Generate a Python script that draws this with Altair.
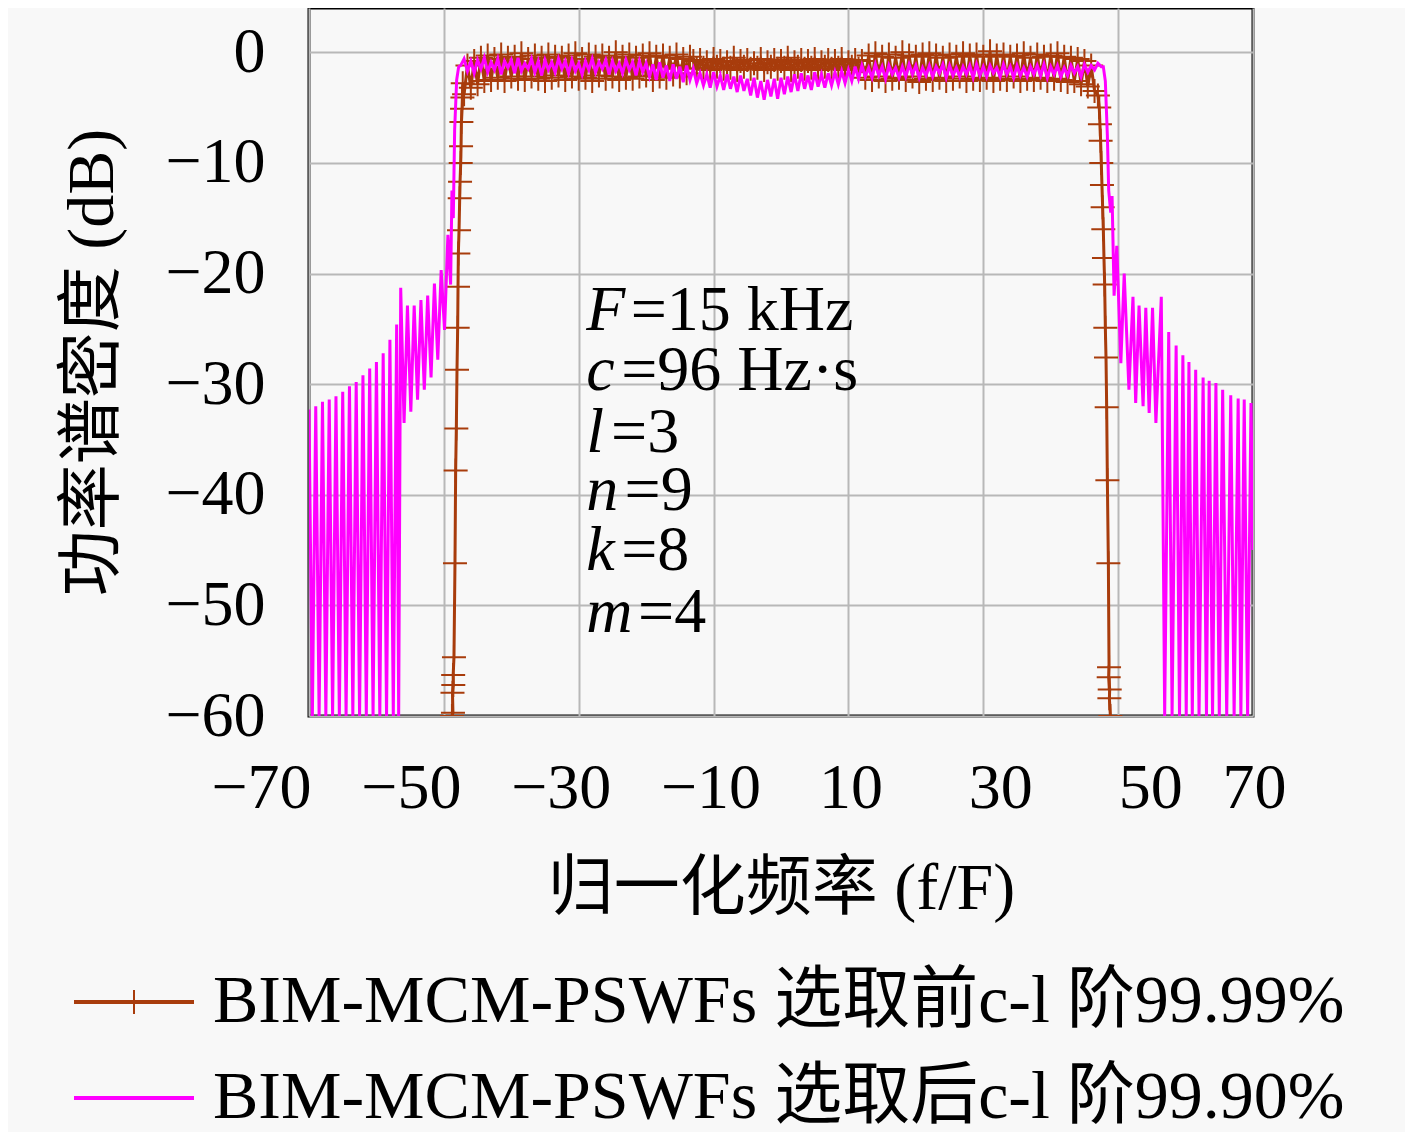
import altair as alt
import pandas as pd

BROWN = "#a83c0c"
MAGENTA = "#ff00ff"
FONT = "Liberation Serif, Noto Sans CJK SC"
S1 = "BIM-MCM-PSWFs 选取前c-l 阶99.99%"
S2 = "BIM-MCM-PSWFs 选取后c-l 阶99.90%"
PLUS = "M-0.4,0H0.4M0,-0.4V0.4"

# ---------------- magenta series (99.90%) ----------------
mag_left_x = [-70.0, -69.5, -69.0, -68.5, -68.0, -67.5, -67.0, -66.5, -66.0, -65.5,
              -65.0, -64.5, -64.0, -63.5, -63.0, -62.5, -62.0, -61.5, -61.0, -60.5,
              -60.0, -59.5, -59.0, -58.5, -58.0, -57.5, -57.0, -56.7, -56.4, -55.9,
              -55.4, -54.9, -54.4, -53.9, -53.4, -52.9, -52.4, -51.9, -51.4, -50.9,
              -50.4, -49.9, -49.4, -49.0, -48.8, -48.6, -48.4, -48.1, -47.8]
mag_left_y = [-32.3, -60, -32.0, -60, -31.6, -60, -31.4, -60, -31.1, -60,
              -30.7, -60, -30.2, -60, -29.8, -60, -29.2, -60, -28.6, -60,
              -28.0, -60, -27.2, -60, -26.0, -60, -24.6, -60, -21.3, -33.5,
              -22.9, -32.5, -22.9, -31.4, -22.4, -30.5, -22.0, -29.4, -20.9, -27.8,
              -19.7, -25.1, -16.5, -21.0, -12.5, -15.0, -7.0, -2.5, -1.3]

mag_pass_start = -47.5
mag_pass_y = [
    -1.2, -0.6, -1.7, -0.8, -1.9, -0.7, -1.5, -0.5, -1.8, -0.9,
    -1.6, -0.6, -2.0, -0.8, -1.4, -0.7, -1.9, -0.5, -1.7, -1.0,
    -1.5, -0.6, -1.8, -0.8, -2.1, -0.7, -1.6, -0.9, -1.8, -0.6,
    -1.5, -0.8, -1.9, -0.7, -1.7, -1.0, -2.0, -0.8, -1.6, -0.6,
    -1.8, -0.9, -1.5, -0.7, -2.0, -0.8, -1.7, -1.0, -1.9, -0.7,
    -1.6, -0.9, -2.1, -0.8, -1.8,
    -1.0, -2.2, -1.1, -2.5, -0.9, -2.3, -1.2, -2.6, -1.1, -2.4, -1.3, -2.7, -1.2, -2.5, -1.5, -2.8,
    -1.9, -3.0, -2.0, -3.2, -1.8, -3.1, -2.1, -3.4, -2.0, -3.3,
    -2.2, -3.6, -2.1, -3.5, -2.4, -3.9, -2.3, -4.1, -2.6, -4.3,
    -2.5, -4.0, -2.4, -4.2, -2.3, -3.8, -2.2, -3.6, -2.0, -3.5,
    -1.9, -3.3, -2.1, -3.4, -1.8, -3.1, -2.0, -3.2, -1.9, -3.0,
    -1.8, -2.9, -1.7, -2.8, -1.6,
    -2.6, -1.3, -2.4, -1.2, -2.2, -1.4, -2.3, -1.1, -2.1, -1.3,
    -2.4, -1.2, -2.0, -1.4, -2.3, -1.3, -2.2, -1.1, -2.0, -1.2,
    -2.3, -1.4, -2.1, -1.2, -2.2, -1.3, -1.9, -1.1, -2.3, -1.2,
    -2.1, -1.4, -2.2, -1.3, -2.0, -1.2, -2.3, -1.1, -2.1, -1.3,
    -2.2, -1.2, -1.9, -1.4, -2.2, -1.1, -2.0, -1.3, -2.3, -1.2,
    -2.1, -1.4, -2.2, -1.3, -2.0, -1.2, -2.1, -1.1, -2.3, -1.3,
    -2.0, -1.2, -2.2, -1.4, -2.1, -1.2, -1.9, -1.3, -2.2, -1.1,
    -1.8, -1.2, -1.6, -1.0, -1.3,
]

mag_right_x = [47.8, 48.1, 48.4, 48.6, 48.9, 49.1, 49.4, 49.8, 50.4, 50.9,
               51.6, 52.2, 52.6, 53.1, 53.7, 54.1, 54.6, 55.1, 55.6, 56.4,
               56.9, 57.5, 58.0, 58.6, 59.1, 59.6, 60.1, 60.5, 61.0, 61.5,
               62.0, 62.6, 63.1, 63.5, 64.0, 64.5, 65.0, 65.5, 66.1, 66.7,
               67.2, 67.8, 68.2, 68.7, 69.2, 69.7, 70.0]
mag_right_y = [-1.3, -2.6, -7.5, -12.5, -14.5, -13.0, -22.0, -17.5, -28.1, -20.0,
               -30.5, -22.1, -31.7, -22.9, -32.0, -23.1, -32.6, -23.1, -33.5, -22.1,
               -60, -25.3, -60, -26.5, -60, -27.4, -60, -28.0, -60, -28.7,
               -60, -29.4, -60, -29.7, -60, -29.9, -60, -30.5, -60, -31.0,
               -60, -31.3, -60, -31.4, -60, -31.7, -45.0]

# ---------------- brown series (99.99%) ----------------
brown_left_x = [-48.8, -48.65, -48.72, -48.6, -48.62, -48.5, -48.35, -48.25, -48.15, -48.05,
                -47.95, -47.9, -47.85, -47.75, -47.65, -47.6, -47.5, -47.45, -47.4, -47.3,
                -47.25, -47.2]
brown_left_y = [-60.0, -59.7, -57.9, -57.2, -56.3, -54.7, -46.2, -37.8, -34.0, -28.7,
                -24.9, -21.2, -18.2, -16.1, -13.2, -11.7, -10.0, -8.5, -6.3, -5.1,
                -4.1, -2.8]

brown_pass_start = -47.0
brown_pass_y = [
    -3.8, -1.2, -3.2, -0.8, -2.9, -0.5, -2.6, -0.3, -2.5, -0.6,
    -2.3, -0.2, -2.6, -0.5, -2.2, -0.4, -2.4, -0.1, -2.5, -0.6,
    -2.2, -0.3, -2.4, -0.5, -2.6, -0.2, -2.3, -0.4, -2.1, -0.5,
    -2.5, -0.3, -2.2, -0.1, -2.4, -0.6, -2.3, -0.2, -2.6, -0.4,
    -2.1, -0.3, -2.4, -0.5, -2.2, 0.0, -2.5, -0.4, -2.3, -0.2,
    -2.4, -0.5, -2.2, -0.3, -2.1, -0.1, -2.5, -0.4, -2.2, -0.3,
    -2.3, -0.5, -2.0, -0.2, -2.2, -0.6, -1.9, -0.4,
    -0.8, -1.5, -0.7, -1.4, -0.9, -1.6, -0.6, -1.3, -0.8, -1.5,
    -0.9, -1.4, -0.5, -1.6, -0.8, -1.3, -0.7, -1.5, -1.0, -1.4,
    -0.6, -1.6, -0.9, -1.3, -0.7, -1.5, -0.8, -1.4, -0.5, -1.6,
    -0.9, -1.3, -0.7, -1.5, -0.8, -1.4, -0.6, -1.6, -0.9, -1.3,
    -0.7, -1.5, -0.8, -1.4, -0.6, -1.6, -0.9, -1.3, -0.7, -1.5,
    -0.8,
    -2.3, -0.3, -2.5, -0.1, -2.2, -0.4, -2.6, -0.2, -2.4, -0.5,
    -2.3, 0.0, -2.5, -0.3, -2.2, -0.4, -2.7, -0.2, -2.4, -0.1,
    -2.5, -0.3, -2.3, -0.5, -2.6, -0.2, -2.4, -0.4, -2.2, -0.1,
    -2.6, -0.3, -2.4, -0.2, -2.5, -0.4, -2.3, 0.1, -2.6, -0.3,
    -2.4, -0.2, -2.5, -0.4, -2.2, -0.3, -2.6, -0.1, -2.4, -0.5,
    -2.5, -0.2, -2.3, -0.4, -2.6, -0.3, -2.4, -0.1, -2.5, -0.4,
    -2.7, -0.5, -2.6, -0.6, -2.9, -0.8, -3.1, -1.2, -3.5, -3.9,
]

brown_right_x = [47.2, 47.3, 47.4, 47.5, 47.6, 47.7, 47.8, 47.9, 48.0, 48.1,
                 48.2, 48.3, 48.4, 48.55, 48.65, 48.6, 48.75, 48.7, 48.85]
brown_right_y = [-5.0, -6.5, -8.0, -10.0, -12.0, -14.0, -16.0, -18.6, -21.0, -24.9,
                 -27.6, -32.1, -38.7, -46.2, -55.6, -56.5, -57.6, -58.4, -60.0]

# ---------------- annotation ----------------
ann_var = ["F", "c", "l", "n", "k", "m"]
ann_rest = ["=15 kHz", "=96 Hz·s", "=3", "=9", "=8", "=4"]
ann_y = [-25.1, -30.5, -36.1, -41.4, -46.8, -52.4]
ann_var_x = [-28.9, -28.9, -28.9, -28.9, -28.9, -28.9]
ann_rest_x = [-22.3, -23.7, -25.2, -23.2, -23.7, -21.2]

x_ticks = [-70, -50, -30, -10, 10, 30, 50, 70]
y_ticks = [-60, -50, -40, -30, -20, -10, 0]


def build(xl, yl, start, pvals, xr, yr, name, key):
    xs = list(xl) + [start + 0.5 * i for i in range(len(pvals))] + list(xr)
    ys = list(yl) + list(pvals) + list(yr)
    return pd.DataFrame({"x": xs, "y": ys, "i": range(len(xs)), "series": name, "mk": key})


df_brown = build(brown_left_x, brown_left_y, brown_pass_start, brown_pass_y,
                 brown_right_x, brown_right_y, S1, "p1")
df_mag = build(mag_left_x, mag_left_y, mag_pass_start, mag_pass_y,
               mag_right_x, mag_right_y, S2, "p2")
df_ann = pd.DataFrame({"var": ann_var, "rest": ann_rest, "y": ann_y,
                       "vx": ann_var_x, "rx": ann_rest_x})

x_enc = alt.X("x:Q", scale=alt.Scale(domain=[-70, 70], nice=False, zero=False),
              axis=alt.Axis(values=x_ticks, title="归一化频率 (f/F)", labelFlush=False,
                            labelOverlap=False, labelPadding=40, titlePadding=36,
                            labelOffset={"expr": "datum.value == 70 ? 1 : (datum.value < 0 ? -48 + 0.75*(datum.value + 70) : 2 + 0.75*(datum.value - 10))"}))
y_enc = alt.Y("y:Q", scale=alt.Scale(domain=[-60, 4], nice=False, zero=False),
              axis=alt.Axis(values=y_ticks, title="功率谱密度 (dB)", labelFlush=False,
                            labelOverlap=False, labelPadding=44, titlePadding=38))

cscale = alt.Scale(domain=[S1, S2], range=[BROWN, MAGENTA])
LEG_X = -209
LEG_Y = 960
leg_common = dict(orient="none", legendX=LEG_X, legendY=LEG_Y, title=None,
                  symbolSize=3600, labelFont=FONT, labelFontSize=68, labelOffset=45,
                  labelLimit=3000, rowPadding=28, padding=0)

color_enc = alt.Color("series:N", scale=cscale,
                      legend=alt.Legend(symbolType="M-2,0H2", symbolStrokeWidth=4,
                                        labelColor="black", **leg_common))

brown_line = alt.Chart(df_brown).mark_line(strokeWidth=3, clip=True).encode(
    x=x_enc, y=y_enc, order="i:Q", color=color_enc)

brown_pts = alt.Chart(df_brown).mark_point(filled=False, strokeWidth=2, size=3600,
                                           clip=True, color=BROWN, opacity=1).encode(
    x=x_enc, y=y_enc,
    shape=alt.Shape("mk:N", scale=alt.Scale(domain=["p1", "p2"], range=[PLUS, "M0,0"]),
                    legend=alt.Legend(symbolStrokeWidth=2, symbolStrokeColor=BROWN,
                                      labelExpr="''", **leg_common)))

mag_line = alt.Chart(df_mag).mark_line(strokeWidth=3, clip=True).encode(
    x=x_enc, y=y_enc, order="i:Q", color=color_enc)

txt_var = alt.Chart(df_ann).mark_text(font=FONT, fontSize=64, fontStyle="italic",
                                      align="left", baseline="alphabetic", color="black").encode(
    x=alt.X("vx:Q"), y=alt.Y("y:Q"), text="var:N")
txt_rest = alt.Chart(df_ann).mark_text(font=FONT, fontSize=64, align="left",
                                       baseline="alphabetic", color="black").encode(
    x=alt.X("rx:Q"), y=alt.Y("y:Q"), text="rest:N")

chart = alt.layer(brown_line, brown_pts, mag_line, txt_var, txt_rest).properties(
    width=944, height=708,
    padding={"left": 51, "top": 0, "right": 60, "bottom": 0},
    background="#f8f8f8",
).configure_view(
    stroke="black", strokeWidth=3, fill="#f8f8f8"
).configure_axis(
    grid=True, gridColor="#b8b8b8", gridWidth=2, domain=False, ticks=False,
    labelFont=FONT, labelFontSize=64, labelColor="black",
    titleFont=FONT, titleFontSize=66, titleColor="black", titleFontWeight="normal",
)

chart.save("out.html", embed_options={"renderer": "svg", "actions": False})
